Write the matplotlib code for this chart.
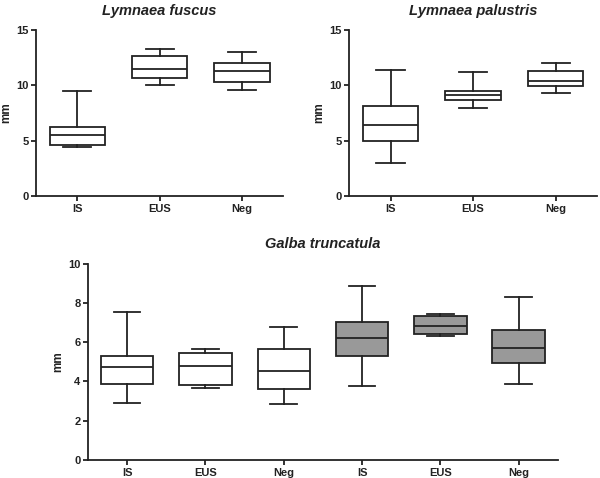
import matplotlib
matplotlib.use("Agg")
import matplotlib.pyplot as plt

plt.rcParams['font.family'] = ['Liberation Sans', 'DejaVu Sans']

# group labels
groups = ['IS', 'EUS', 'Neg']

# Lymnaea fuscus: min, q1, median, q3, max
fus_min = [4.46, 10.03, 9.58]
fus_q1 = [4.64, 10.66, 10.33]
fus_med = [5.54, 11.45, 11.27]
fus_q3 = [6.27, 12.62, 11.99]
fus_max = [9.49, 13.25, 13.04]

# Lymnaea palustris
pal_min = [2.98, 7.98, 9.31]
pal_q1 = [4.94, 8.70, 9.97]
pal_med = [6.45, 9.16, 10.39]
pal_q3 = [8.13, 9.46, 11.27]
pal_max = [11.36, 11.20, 11.99]

# Galba truncatula (first three white, last three grey)
gal_labels = ['IS', 'EUS', 'Neg', 'IS', 'EUS', 'Neg']
gal_min = [2.90, 3.68, 2.85, 3.79, 6.33, 3.89]
gal_q1 = [3.87, 3.80, 3.62, 5.30, 6.43, 4.94]
gal_med = [4.74, 4.77, 4.52, 6.21, 6.81, 5.72]
gal_q3 = [5.28, 5.47, 5.64, 7.03, 7.35, 6.62]
gal_max = [7.56, 5.65, 6.76, 8.86, 7.44, 8.32]
gal_fill = ['white', 'white', 'white', '#999999', '#999999', '#999999']


def make_stats(lo, q1, med, q3, hi):
    return [dict(whislo=a, q1=b, med=c, q3=d, whishi=e, fliers=[])
            for a, b, c, d, e in zip(lo, q1, med, q3, hi)]


def draw(ax, stats, labels, fills, ymax, step, title):
    lw = 1.3
    bp = ax.bxp(stats, positions=range(len(stats)), widths=0.67,
                patch_artist=True, showfliers=False,
                boxprops=dict(linewidth=lw, edgecolor='#222222'),
                medianprops=dict(linewidth=lw, color='#222222'),
                whiskerprops=dict(linewidth=lw, color='#222222'),
                capprops=dict(linewidth=lw, color='#222222'),
                capwidths=0.34)
    for patch, c in zip(bp['boxes'], fills):
        patch.set_facecolor(c)
    ax.set_xlim(-0.5, len(stats) - 0.5)
    ax.set_ylim(0, ymax)
    ax.set_yticks(range(0, ymax + 1, step))
    ax.set_xticks(range(len(stats)))
    ax.set_xticklabels(labels)
    for s in ['top', 'right']:
        ax.spines[s].set_visible(False)
    for s in ['left', 'bottom']:
        ax.spines[s].set_linewidth(1.3)
        ax.spines[s].set_color('#222222')
    ax.tick_params(direction='out', length=3.5, width=1.3, color='#222222',
                   labelsize=8, pad=2)
    for t in ax.get_xticklabels() + ax.get_yticklabels():
        t.set_fontweight('bold')
        t.set_color('#222222')
    ax.set_ylabel('mm', fontsize=8.5, fontweight='bold', color='#222222', labelpad=3)
    ax.set_title(title, fontsize=10.5, fontweight='bold', fontstyle='italic',
                 color='#222222', pad=11)


fig = plt.figure(figsize=(6.0, 4.78), dpi=100)
ax1 = fig.add_axes([0.06, 0.59, 0.412, 0.347])
ax2 = fig.add_axes([0.582, 0.59, 0.413, 0.347])
ax3 = fig.add_axes([0.1467, 0.0377, 0.783, 0.4106])

draw(ax1, make_stats(fus_min, fus_q1, fus_med, fus_q3, fus_max), groups,
     ['white'] * 3, 15, 5, 'Lymnaea fuscus')
draw(ax2, make_stats(pal_min, pal_q1, pal_med, pal_q3, pal_max), groups,
     ['white'] * 3, 15, 5, 'Lymnaea palustris')
draw(ax3, make_stats(gal_min, gal_q1, gal_med, gal_q3, gal_max), gal_labels,
     gal_fill, 10, 2, 'Galba truncatula')

fig.savefig('out.png', dpi=100)
